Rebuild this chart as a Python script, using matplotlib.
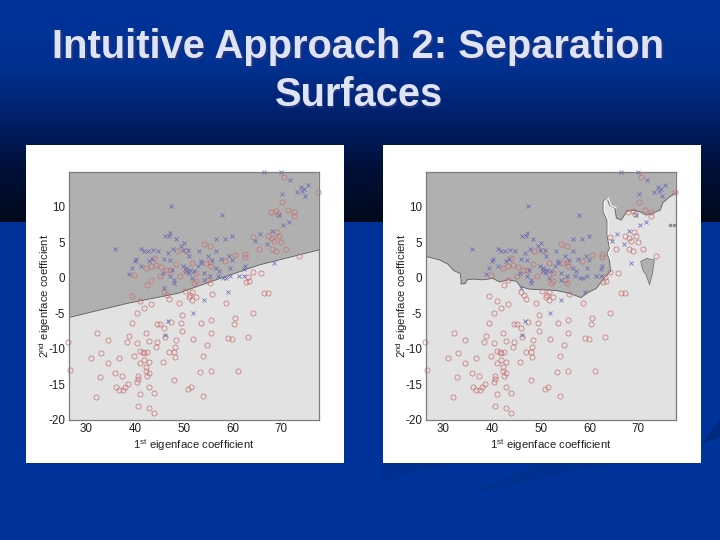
import numpy as np
import matplotlib
matplotlib.use('Agg')
import matplotlib.pyplot as plt
from matplotlib.colors import LinearSegmentedColormap

# class 1 samples (red circles)
red_x = [77.5, 70.5, 70.1, 68.9, 67.9, 69.4, 71.4, 72.7, 72.5, 69.2, 69.6, 67.2, 68.0, 64.3, 68.5, 70.0,
         65.4, 68.1, 68.9, 71.0, 73.7, 54.1, 55.3, 60.5, 62.6, 62.5, 58.5, 48.6, 50.5, 44.0, 42.3, 43.3,
         44.3, 45.4, 46.4, 48.4, 39.9, 45.2, 47.2, 49.3, 43.3, 42.5, 51.8, 54.6, 55.6, 55.3, 50.5, 52.5,
         52.5, 52.2, 54.9, 55.3, 64.3, 65.8, 63.1, 62.8, 63.4, 66.4, 67.3, 55.9, 50.3, 51.3, 51.8, 52.5,
         51.0, 51.7, 58.7, 45.9, 46.5, 46.9, 39.4, 41.1, 43.4, 49.0,
         41.8, 40.4, 39.4, 32.2, 34.4, 38.9, 38.3, 40.4, 42.2, 42.8, 44.5, 44.4, 26.4, 33.1, 31.0, 34.4,
         36.8, 39.8, 41.1, 41.6, 41.9, 42.5, 41.9, 41.1, 42.8, 42.2, 42.2, 43.0, 42.4, 40.7, 40.6, 40.4,
         26.7, 35.9, 32.9, 37.4, 38.6, 38.0, 36.1, 36.7, 37.5, 42.8, 44.0, 41.1, 32.0, 40.6, 43.0, 43.9,
         48.0, 45.8, 46.9, 48.0, 48.2, 48.2, 48.5, 46.1, 46.0, 44.6, 45.1, 47.5, 49.5, 49.7, 49.7, 52.0,
         53.5, 55.7, 55.7, 54.8, 53.9, 53.3, 55.6, 51.5, 50.8, 53.9, 59.0, 59.8, 61.1, 60.4, 60.6, 63.2,
         64.1]
red_y = [12.1, 14.2, 10.6, 9.4, 9.2, 8.9, 9.5, 9.2, 8.7, 6.4, 5.8, 5.8, 5.6, 5.7, 5.1, 5.0,
         4.1, 4.0, 3.8, 4.0, 3.0, 4.8, 4.5, 3.2, 3.4, 2.9, 2.3, 3.8, 3.8, 2.7, 1.3, 1.6,
         1.8, 1.5, 1.1, 1.9, 0.4, 0.2, 1.1, 0.2, -0.3, -1.0, 2.0, 2.0, 1.6, 2.2, 0.9, 0.6,
         -0.5, -0.8, -0.3, -0.8, 0.8, 0.6, 0.1, -0.6, -0.5, -2.1, -2.2, -2.3, -1.8, -2.4, -2.0, -2.7,
         -2.7, -3.2, -3.5, -2.0, -2.5, -3.0, -2.6, -3.3, -3.7, -3.5,
         -4.2, -5.0, -6.3, -7.8, -8.7, -8.2, -9.1, -9.2, -7.8, -8.9, -9.0, -9.8, -9.0, -10.6, -11.3, -12.0,
         -11.3, -11.0, -10.3, -10.4, -10.6, -10.5, -11.5, -12.0, -11.9, -12.6, -13.1, -13.4, -13.8, -13.8, -14.3, -14.6,
         -13.0, -13.4, -14.0, -13.8, -15.0, -15.4, -15.4, -15.8, -15.8, -15.3, -16.2, -16.3, -16.8, -18.1, -18.3, -19.0,
         -14.4, -11.8, -10.4, -10.4, -11.1, -9.7, -8.7, -8.4, -7.1, -6.5, -6.5, -6.2, -6.3, -5.3, -7.5, -8.6,
         -6.3, -6.0, -7.8, -9.5, -11.0, -13.2, -13.1, -15.3, -15.6, -16.6, -8.5, -8.6, -13.1, -6.5, -5.7, -8.4,
         -5.0]

# class 2 samples (blue crosses)
blue_x = [35.9, 66.5, 69.9, 71.8, 70.2, 75.4, 74.0, 74.6, 73.3, 74.9, 74.2, 47.5, 57.9, 69.6, 70.4, 71.6,
          68.1, 65.7, 67.0, 64.7, 68.6, 47.1, 46.2, 47.0, 48.4, 56.6, 58.5, 59.8, 50.1, 49.4, 41.3, 41.8,
          42.7, 43.8, 44.7, 46.8, 47.8, 49.8, 50.9, 53.2, 56.6, 40.2, 40.0, 39.4, 41.3, 38.7, 42.8, 43.5,
          45.9, 47.3, 51.0, 54.9, 57.6, 59.3, 60.0, 53.5, 55.9, 49.8, 50.5, 51.2, 52.9, 53.5, 56.6, 57.3,
          59.4, 62.6, 62.4, 50.5, 51.0, 52.2, 54.2, 47.7, 45.7, 47.1, 58.0, 58.7, 59.4, 61.4, 62.4, 48.1,
          48.1, 51.8, 54.2, 55.3, 57.0, 46.0, 59.1, 54.2, 52.0, 46.7, 46.2]
blue_y = [4.1, 14.8, 14.8, 13.8, 11.8, 13.1, 12.8, 12.4, 12.1, 11.5, 12.2, 10.1, 8.8, 8.8, 7.4, 7.9,
          6.6, 6.1, 4.8, 5.2, 2.1, 6.3, 5.9, 5.8, 5.5, 5.5, 5.5, 5.8, 4.9, 4.5, 4.0, 3.7,
          3.8, 3.9, 3.8, 3.5, 4.1, 3.9, 3.9, 3.8, 3.8, 2.6, 2.3, 1.4, 1.6, 0.5, 2.3, 2.6,
          2.6, 2.5, 3.0, 3.0, 2.6, 3.0, 2.5, 2.3, 2.5, 1.6, 1.3, 1.1, 1.6, 2.0, 1.4, 0.9,
          1.3, 1.6, 1.2, 0.9, 0.6, 0.9, 0.6, 1.1, 0.6, 0.2, -0.1, 0.0, 0.2, 0.2, 0.2, -0.3,
          -0.8, -0.1, -0.3, 0.2, 0.2, -1.5, -2.0, -3.1, -4.9, -6.1, -8.0]

x_ticks = [30, 40, 50, 60, 70]
y_ticks = [-20, -15, -10, -5, 0, 5, 10]
x_range = (26.45, 77.66)
y_range = (-20, 14.9)

# linear-ish separation surface
line_x = [26.45, 38.5, 48.8, 58.7, 65.5, 77.66]
line_y = [-5.6, -3.6, -2.2, 0.2, 1.8, 3.9]

# wiggly separation surface
coast_x = [26.45, 29.3, 31.0, 32.2, 33.5, 33.7, 33.7, 34.6, 34.9, 36.1, 38.2, 40.2, 41.6, 43.3, 45.0, 46.0,
           47.7, 50.5, 53.2, 55.9, 58.3, 59.4, 61.4, 62.4, 63.3, 64.3, 64.1, 63.6, 64.1, 63.6, 63.6, 62.8,
           62.8, 63.6, 64.1, 65.2, 65.5, 66.5, 67.6, 68.9, 70.3, 71.6, 73.0, 74.5, 75.0, 76.1, 77.66]
coast_y = [3.0, 2.5, 1.9, 1.0, 0.6, -0.3, -0.9, -0.8, -0.3, -0.2, -0.3, -0.1, -0.6, -0.3, -0.5, -1.3,
           -1.6, -1.7, -1.8, -2.2, -2.8, -2.2, -1.5, -0.6, 0.2, 0.9, 2.5, 3.4, 4.1, 6.0, 8.1, 9.3,
           10.7, 11.2, 10.2, 9.8, 8.4, 8.1, 9.3, 9.5, 9.3, 8.8, 9.1, 9.5, 10.5, 11.2, 11.9]
island_x = [70.5, 71.7, 73.3, 72.9, 72.3, 71.6, 70.9]
island_y = [2.3, 2.7, 2.5, 0.6, -1.0, 0.4, 1.1]
islet_x = [76.4, 77.4]
islet_y = [7.4, 7.4]

W, H = 720, 540
LIGHT = '#e2e2e2'
DARK = '#b0b0b0'
EDGE = '#7d7d7d'

plt.rcParams['font.family'] = ['Liberation Sans', 'DejaVu Sans']
plt.rcParams['mathtext.default'] = 'regular'
plt.rcParams['axes.unicode_minus'] = False


def px_axes(fig, left, top, right, bottom, **kw):
    return fig.add_axes([left / W, 1 - bottom / H, (right - left) / W, (bottom - top) / H], **kw)


def draw_panel(fig, left, wiggly):
    # white sheet behind the plot
    sheet = px_axes(fig, left, 145, left + 318, 463)
    sheet.set_facecolor('white')
    sheet.set_xticks([])
    sheet.set_yticks([])
    for s in sheet.spines.values():
        s.set_visible(False)

    ax = px_axes(fig, left + 42.7, 171.7, left + 292.7, 420)
    ax.set_xlim(*x_range)
    ax.set_ylim(*y_range)
    ax.set_facecolor(LIGHT)

    top = y_range[1]
    if wiggly:
        ax.fill(list(coast_x) + [x_range[1], x_range[0]], list(coast_y) + [top, top],
                color=DARK, lw=0)
        ax.plot(coast_x, coast_y, color='#5c5c5c', lw=0.6)
        # thin white rim on the steep part of the boundary
        ax.plot(np.array(coast_x[26:36]) + 0.25, coast_y[26:36], color='#f6f6f6', lw=0.9)
        ax.fill(island_x, island_y, facecolor=DARK, edgecolor='#6a6a6a', lw=0.5)
        ax.plot(islet_x, islet_y, ls='', marker='s', ms=1.4, color='#8c8c8c')
    else:
        ax.fill(list(line_x) + [x_range[1], x_range[0]], list(line_y) + [top, top],
                color=DARK, lw=0)
        ax.plot(line_x, line_y, color='#5c5c5c', lw=0.6)

    ax.plot(red_x, red_y, ls='', marker='o', ms=3.7, mfc='none', mec='#c66f70', mew=0.5, clip_on=False)
    ax.plot(blue_x, blue_y, ls='', marker='x', ms=2.8, color='#6262b6', mew=0.5, clip_on=False)

    ax.set_xticks(x_ticks)
    ax.set_yticks(y_ticks)
    ax.tick_params(length=0, labelsize=8.4, colors='#222222', pad=2.5)
    for s in ax.spines.values():
        s.set_color(EDGE)
        s.set_linewidth(0.9)
    ax.set_xlabel('1$^{st}$ eigenface coefficient', fontsize=8.2, color='#222222', labelpad=1.5)
    ax.set_ylabel('2$^{nd}$ eigenface coefficient', fontsize=8.2, color='#222222')
    ax.yaxis.set_label_coords(-0.061, 0.5)


fig = plt.figure(figsize=(W / 100, H / 100), dpi=100)

# slide background
bg = fig.add_axes([0, 0, 1, 1])
bg.axis('off')
grad = LinearSegmentedColormap.from_list('slide', [(0, '#00339a'), (0.30, '#003090'), (0.55, '#001f66'),
                                                   (0.75, '#00103a'), (1, '#000a1c')])
bg.imshow(np.linspace(0, 1, 222).reshape(-1, 1), cmap=grad, extent=(0, W, 222, 0), aspect='auto', zorder=0)
bg.fill([0, W, W, 0], [222, 222, H, H], color='#003399', lw=0, zorder=0)
# faint swooshes bottom right
bg.fill([700, 720, 720], [445, 420, 437], color='#002a80', lw=0, zorder=1)
bg.fill([381, 450, 381], [463, 463, 483], color='#003190', lw=0, zorder=1)
bg.fill([459, 610, 540], [497, 463, 463], color='#003190', lw=0, zorder=1)
bg.set_xlim(0, W)
bg.set_ylim(H, 0)

title_lines = ['Intuitive Approach 2: Separation', 'Surfaces']
title_base = [58.5, 106]
for line, y in zip(title_lines, title_base):
    bg.text(360, y + 1.5, line, ha='center', va='baseline', fontsize=28.7, fontweight='bold', color='#26357f', zorder=2)
    bg.text(358.5, y, line, ha='center', va='baseline', fontsize=28.7, fontweight='bold', color='#dfe4f5', zorder=3)

draw_panel(fig, 26, False)
draw_panel(fig, 383, True)

fig.savefig('out.png', dpi=100)
